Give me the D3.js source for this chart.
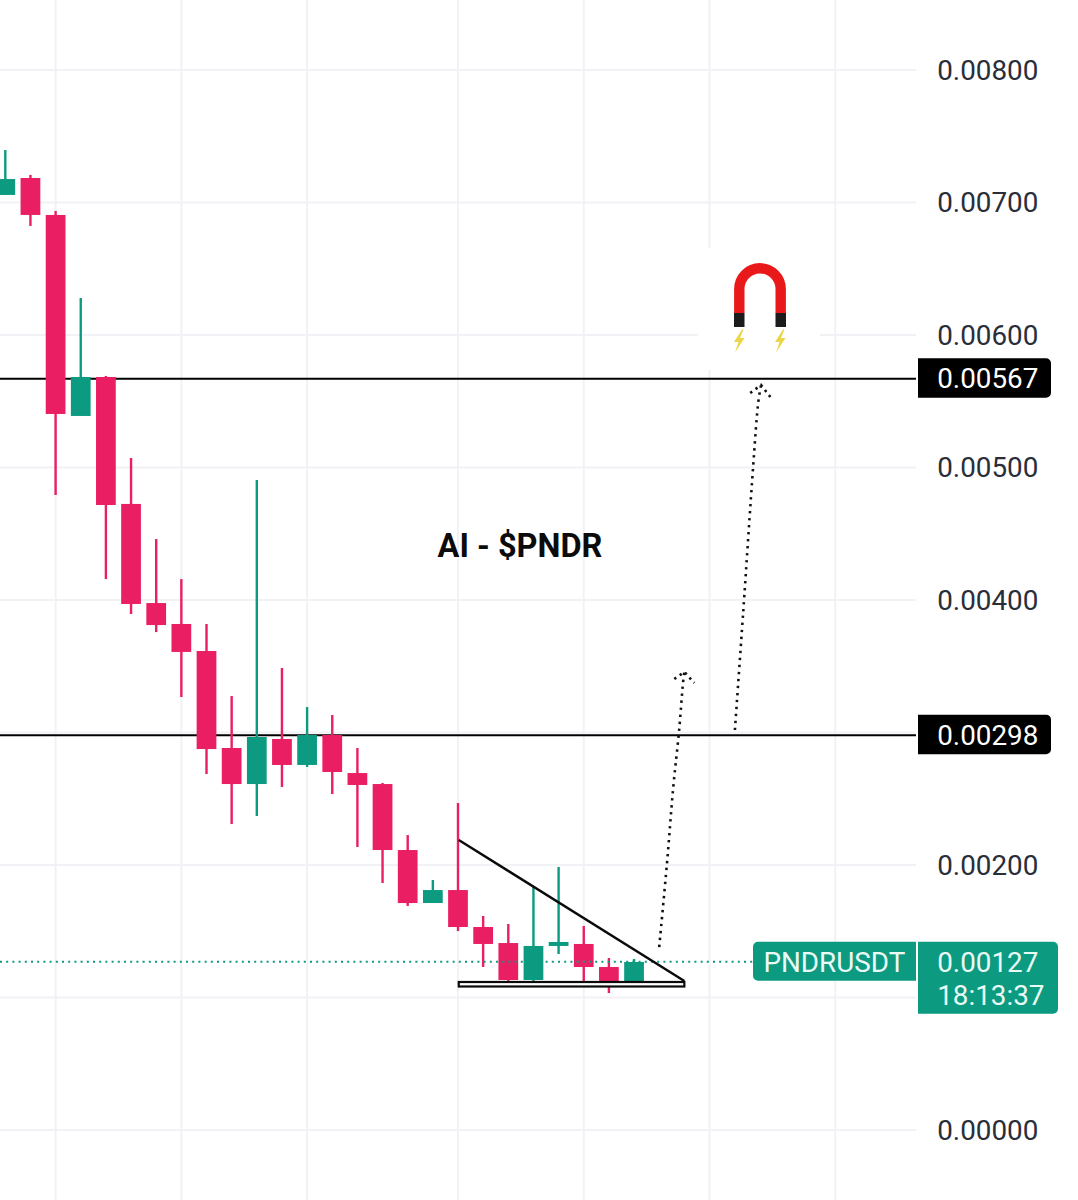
<!DOCTYPE html>
<html>
<head>
<meta charset="utf-8">
<script src="https://cdn.jsdelivr.net/npm/d3@7"></script>
<style>
html,body{margin:0;padding:0;background:#fff;}
svg{display:block;font-family:Roboto,sans-serif;}
</style>
</head>
<body>
<svg id="chart" width="1078" height="1200"></svg>
<script>
const opens  = [0.007057,0.007185,0.006906,0.005389,0.005683,0.004725,0.003977,0.003819,0.003615,0.002883,0.002611,0.002951,0.002755,0.002981,0.002694,0.002611,0.002113,0.001713,0.001811,0.001532,0.001411,0.001132,0.001389,0.001404,0.001230,0.001109];
const highs  = [0.007396,0.007208,0.006936,0.006279,0.005691,0.005072,0.004460,0.004158,0.003819,0.003275,0.004906,0.003487,0.003192,0.003132,0.002883,0.002619,0.002226,0.001887,0.002468,0.001615,0.001555,0.001834,0.001985,0.001540,0.001298,0.001291];
const lows   = [0.007057,0.006823,0.004792,0.005389,0.004158,0.003894,0.003758,0.003268,0.002687,0.002309,0.002370,0.002589,0.002740,0.002536,0.002136,0.001864,0.001691,0.001713,0.001502,0.001230,0.001125,0.001117,0.001328,0.001109,0.001034,0.001109];
const closes = [0.007177,0.006906,0.005404,0.005683,0.004717,0.003970,0.003811,0.003608,0.002875,0.002611,0.002966,0.002755,0.002981,0.002702,0.002604,0.002113,0.001713,0.001811,0.001532,0.001404,0.001132,0.001389,0.001419,0.001230,0.001109,0.001268];

const gridPrices  = [0,0.001,0.002,0.003,0.004,0.005,0.006,0.007,0.008];
const labelPrices = [0,0.002,0.004,0.005,0.006,0.007,0.008];
const gridBars    = [2,7,12,18,23,28,33];
const levelPrices = [0.00567,0.00298];
const lastPrice   = 0.00127;
const symbol      = "PNDRUSDT";
const countdown   = "18:13:37";
const title       = "AI - $PNDR";
const titleAt     = [17.2,0.00441];

const trendLine = [[18.03,0.002189],[27,0.001125]];
const baseBox   = [[18.03,0.001117],[27,0.001083]];
const arrowOne  = [[26,0.001381],[26.31,0.002015],[26.56,0.002589],[26.79,0.003011],[26.95,0.003381],[27,0.003457]];
const headOne   = [[26.6,0.003404],[27,0.003457],[27.4,0.003374]];
const arrowTwo  = [[29.01,0.003019],[29.34,0.003909],[29.74,0.005019],[29.94,0.005494],[30.05,0.005623]];
const headTwo   = [[29.62,0.005562],[30.05,0.005623],[30.42,0.005532]];

const RED = "#ea1e63", GREEN = "#0c9a80", GRID = "#f1f2f5";
const plotRight = 916;

const x = d3.scaleLinear().domain([0,30]).range([5.3,759.8]);
const y = d3.scaleLinear().domain([0,0.008]).range([1130,70]);
const svg = d3.select("#chart");
const lineGen = d3.line().x(d=>x(d[0])).y(d=>y(d[1]));
const curveGen = d3.line().x(d=>x(d[0])).y(d=>y(d[1])).curve(d3.curveCatmullRom);

// grid
svg.append("g").selectAll("line").data(gridPrices).join("line")
  .attr("x1",0).attr("x2",plotRight).attr("y1",d=>y(d)).attr("y2",d=>y(d))
  .attr("stroke",GRID).attr("stroke-width",2);
svg.append("g").selectAll("line").data(gridBars).join("line")
  .attr("x1",d=>x(d)).attr("x2",d=>x(d)).attr("y1",0).attr("y2",1200)
  .attr("stroke",GRID).attr("stroke-width",2);

// white backing of the magnet sticker
svg.append("rect").attr("x",698).attr("y",248).attr("width",122).attr("height",122).attr("fill","#fff");

// level lines
svg.append("g").selectAll("line").data(levelPrices).join("line")
  .attr("x1",0).attr("x2",plotRight).attr("y1",d=>y(d)).attr("y2",d=>y(d))
  .attr("stroke","#000").attr("stroke-width",2);

// candles
const step = x(1)-x(0), bodyW = step*0.785;
const candles = d3.range(opens.length).map(i=>({i,o:opens[i],h:highs[i],l:lows[i],c:closes[i]}));
const colour = d=>d.c>=d.o?GREEN:RED;
const cg = svg.append("g").selectAll("g").data(candles).join("g");
cg.append("line")
  .attr("x1",d=>x(d.i)).attr("x2",d=>x(d.i)).attr("y1",d=>y(d.h)).attr("y2",d=>y(d.l))
  .attr("stroke",colour).attr("stroke-width",2.4);
cg.append("rect")
  .attr("x",d=>x(d.i)-bodyW/2).attr("width",bodyW)
  .attr("y",d=>y(Math.max(d.o,d.c))).attr("height",d=>Math.abs(y(d.o)-y(d.c)))
  .attr("fill",colour);

// last price dotted line
svg.append("line").attr("x1",0).attr("x2",754).attr("y1",y(lastPrice)).attr("y2",y(lastPrice))
  .attr("stroke",GREEN).attr("stroke-width",2).attr("stroke-dasharray","2 4.2");

// triangle
svg.append("path").attr("d",lineGen(trendLine)).attr("fill","none").attr("stroke","#0a0a0a").attr("stroke-width",2.4);
svg.append("rect")
  .attr("x",x(baseBox[0][0])).attr("y",y(baseBox[0][1]))
  .attr("width",x(baseBox[1][0])-x(baseBox[0][0])).attr("height",y(baseBox[1][1])-y(baseBox[0][1]))
  .attr("fill","#fff").attr("stroke","#0a0a0a").attr("stroke-width",2.2);

// dotted arrows
[arrowOne,arrowTwo].forEach(a=>svg.append("path").attr("d",curveGen(a)).attr("fill","none")
  .attr("stroke","#111").attr("stroke-width",2.6).attr("stroke-dasharray","2.4 4.6"));
[headOne,headTwo].forEach(a=>svg.append("path").attr("d",lineGen(a)).attr("fill","none")
  .attr("stroke","#111").attr("stroke-width",2.6).attr("stroke-dasharray","2.4 4.2"));

// title
svg.append("text").attr("x",x(titleAt[0])-0.3).attr("y",y(titleAt[1]))
  .attr("font-size",32.5).attr("font-weight",700).attr("fill","#0b0b0b")
  .attr("dominant-baseline","central").text(title);

// magnet
const m = svg.append("g").attr("transform","translate(760,0)");
m.append("path").attr("d","M-20.7,313 V289 A20.7,20.7 0 0 1 20.7,289 V313")
  .attr("fill","none").attr("stroke","#e9191b").attr("stroke-width",10.4);
m.append("rect").attr("x",-26).attr("y",313).attr("width",10.5).attr("height",14).attr("fill","#1c1c1c");
m.append("rect").attr("x",15.5).attr("y",313).attr("width",10.5).attr("height",14).attr("fill","#1c1c1c");
[-21,20].forEach(dx=>m.append("path")
  .attr("transform",`translate(${dx},341)`)
  .attr("d","M3,-11.5 L-5,1 L-0.5,1 L-4,11.5 L5.5,-3 L1,-3 L4.5,-11.5 Z")
  .attr("fill","#ecd548"));

// right axis
const axis = d3.axisRight(y).tickValues(labelPrices).tickFormat(d3.format(".5f")).tickSize(0).tickPadding(0);
const ag = svg.append("g").attr("transform","translate(937.2,0)").call(axis);
ag.select(".domain").remove();
ag.selectAll("text").attr("font-family","Roboto,sans-serif").attr("font-size",27.8).attr("fill","#2a2e39").attr("dy","0.34em");

// tags
function tag(x0,x1,y0,y1,fill,left,right){
  const r=5, p=d3.path();
  p.moveTo(x0+(left?r:0),y0);
  p.lineTo(x1-(right?r:0),y0);
  if(right) p.arcTo(x1,y0,x1,y0+r,r);
  p.lineTo(x1,y1-(right?r:0));
  if(right) p.arcTo(x1,y1,x1-r,y1,r);
  p.lineTo(x0+(left?r:0),y1);
  if(left) p.arcTo(x0,y1,x0,y1-r,r);
  p.lineTo(x0,y0+(left?r:0));
  if(left) p.arcTo(x0,y0,x0+r,y0,r);
  p.closePath();
  svg.append("path").attr("d",p.toString()).attr("fill",fill);
}
function label(tx,ty,s,fill){
  svg.append("text").attr("x",tx).attr("y",ty).attr("font-size",27.8).attr("fill",fill)
    .attr("dy","0.34em").text(s);
}
const fmt = d3.format(".5f");
levelPrices.forEach(v=>{
  const c=y(v);
  tag(918,1051,c-20.5,c+19,"#000",false,true);
  label(937.2,c,fmt(v),"#fff");
});
const lc=y(lastPrice);
tag(753,916,lc-20,lc+19,GREEN,true,false);
tag(918,1058,lc-20,lc+52,GREEN,false,true);
label(763.5,lc+0.5,symbol,"#eafaf5");
label(937.2,lc+0.5,fmt(lastPrice),"#eafaf5");
label(937.2,lc+33.5,countdown,"#eafaf5");
</script>
</body>
</html>
